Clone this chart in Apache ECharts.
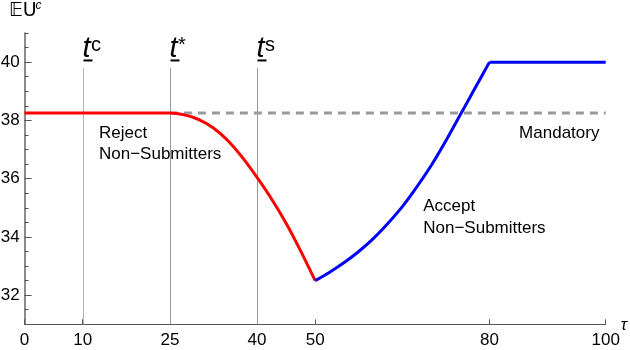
<!DOCTYPE html>
<html><head><meta charset="utf-8">
<script src="https://cdn.jsdelivr.net/npm/echarts@6/dist/echarts.min.js"></script>
<style>html,body{margin:0;padding:0;background:#fff}#c{width:630px;height:350px}</style>
</head><body><div id="c"></div>
<script>
// ---- data ----
const redT  = [0, 20, 22.5, 25, 27.5, 30, 32.5, 35, 37.5, 40, 42.5, 45, 47.5, 50];
const redV  = [38.25, 38.25, 38.25, 38.25, 38.19, 38.03, 37.74, 37.30, 36.72, 36.04, 35.30, 34.47, 33.52, 32.5];
const blueT = [50, 52.5, 55, 57.5, 60, 62.5, 65, 67.5, 70, 72.5, 75, 77.5, 80];
const blueV = [32.5, 32.79, 33.12, 33.5, 33.94, 34.46, 35.04, 35.72, 36.46, 37.3, 38.2, 39.1, 40];
const flatT = [80, 100];
const flatV = [40, 40];
const mandT = [25, 100];
const mandV = [38.25, 38.25];
const markerT = [10, 25, 40];
const markerSup = ['c', '*', 's'];
const markerCol = ['#b4b4b4', '#999999', '#999999'];
const xTicks = [0, 10, 25, 40, 50, 80, 100];
const yTicks = [32, 34, 36, 38, 40];
const noteText = ['Reject', 'Non\u2212Submitters', 'Accept', 'Non\u2212Submitters', 'Mandatory'];
const noteT = [12.8, 12.8, 68.6, 68.6, 85.1];
const noteV = [37.55, 36.82, 35.06, 34.31, 37.55];
const xName = '\u03C4';
const yMin = 31, yMax = 41, xMax = 100;

const FF = "'Liberation Sans', Arial, sans-serif";
const zip = (a, b) => a.map((v, i) => [v, b[i]]);

const chart = echarts.init(document.getElementById('c'), null, {renderer: 'canvas'});
chart.setOption({
  animation: false,
  backgroundColor: '#fff',
  grid: {left: 24.6, right: 24.3, top: 33, bottom: 25.7, containLabel: false, outerBoundsMode: 'none'},
  graphic: [
    {type: 'text', left: 9, top: 2, style: {text: '\uD835\uDD3CU', font: "19px 'DejaVu Sans', sans-serif", fill: '#000'}},
    {type: 'text', left: 35.5, top: 0, style: {text: 'c', font: "italic 12px " + FF, fill: '#000'}}
  ],
  xAxis: {
    type: 'value', min: 0, max: xMax,
    axisLine: {lineStyle: {color: '#555', width: 1}},
    axisTick: {inside: true, length: 5, customValues: xTicks, lineStyle: {color: '#555'}},
    axisLabel: {customValues: xTicks, fontSize: 17, fontFamily: FF, color: '#000', margin: 8},
    splitLine: {show: false}
  },
  yAxis: [{
    type: 'value', min: yMin, max: yMax, interval: 0.5,
    axisLine: {show: true, lineStyle: {color: '#666', width: 1.5}},
    axisTick: {show: true, inside: true, length: 4, lineStyle: {color: '#555'}},
    axisLabel: {customValues: yTicks, fontSize: 17, fontFamily: FF, color: '#000', margin: 5},
    splitLine: {show: false}
  }, {
    type: 'value', min: yMin, max: yMax, position: 'left',
    axisLine: {show: false},
    axisTick: {show: true, inside: true, length: 7, customValues: yTicks, lineStyle: {color: '#555'}},
    axisLabel: {show: false},
    splitLine: {show: false}
  }],
  series: [
    {type: 'line', data: zip(mandT, mandV), symbol: 'none', z: 1,
     lineStyle: {color: '#999', width: 3, type: [8, 6]}},
    {type: 'custom', z: 1, data: markerT.map((t, i) => [t, i]),
     renderItem: function (params, api) {
       const t = api.value(0), i = api.value(1);
       const p0 = api.coord([t, yMin]);
       const p1 = api.coord([t, 39.8]);
       const x = Math.round(p0[0]) + 0.5;
       return {type: 'group', children: [
         {type: 'line', shape: {x1: x, y1: p0[1], x2: x, y2: p1[1]}, style: {stroke: markerCol[i], lineWidth: 1}},
         {type: 'text', x: x - 1, y: p1[1] - 4.5, style: {text: 't', font: 'italic 29px ' + FF, fill: '#000', align: 'left', verticalAlign: 'bottom'}},
         {type: 'rect', shape: {x: x, y: p1[1] - 8.5, width: 9, height: 2}, style: {fill: '#000'}},
         {type: 'text', x: x + 7.5, y: p1[1] - 12.5, style: {text: markerSup[i], font: '20px ' + FF, fill: '#000', align: 'left', verticalAlign: 'bottom'}}
       ]};
     }},
    {type: 'line', data: zip(redT, redV), symbol: 'none', smooth: 0.3, z: 3,
     lineStyle: {color: '#ff0000', width: 3}},
    {type: 'line', data: zip(blueT, blueV), symbol: 'none', smooth: 0.3, z: 3,
     lineStyle: {color: '#0000ff', width: 3}},
    {type: 'line', data: zip(flatT, flatV), symbol: 'none', z: 3,
     lineStyle: {color: '#0000ff', width: 3}},
    {type: 'custom', z: 4, data: noteT.map((t, i) => [t, noteV[i], i]),
     renderItem: function (params, api) {
       const p = api.coord([api.value(0), api.value(1)]);
       return {type: 'text', x: p[0], y: p[1], style: {text: noteText[api.value(2)], font: '17px ' + FF, fill: '#000', align: 'left', verticalAlign: 'middle'}};
     }},
    {type: 'custom', z: 4, data: [[xMax, yMin]],
     renderItem: function (params, api) {
       const p = api.coord([api.value(0), api.value(1)]);
       return {type: 'text', x: p[0] + 15, y: p[1] + 1, style: {text: xName, font: 'italic 17px ' + FF, fill: '#000', align: 'left', verticalAlign: 'middle'}};
     }}
  ]
});
</script></body></html>
